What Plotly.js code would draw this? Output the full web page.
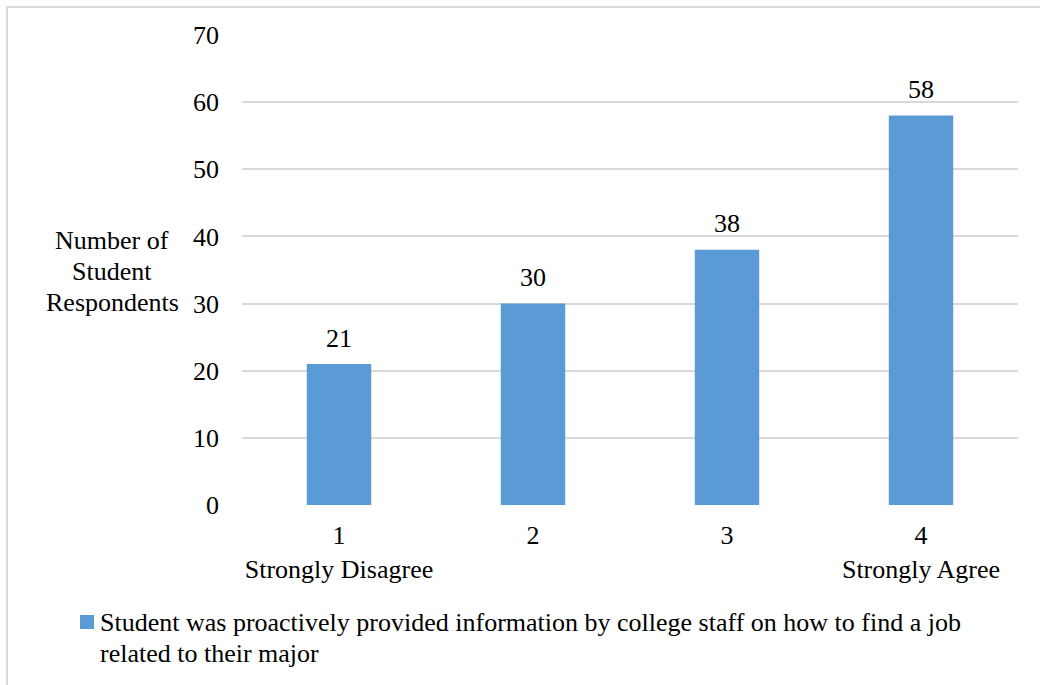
<!DOCTYPE html>
<html>
<head>
<meta charset="utf-8">
<script src="https://cdn.plot.ly/plotly-3.0.1.min.js"></script>
<style>
  html, body { margin: 0; padding: 0; background: #fff; }
  #chart { width: 1040px; height: 685px; }
</style>
</head>
<body>
<div id="chart"></div>
<script>
// Survey responses on a 1–4 agreement scale
const scalePoints = ['1', '2', '3', '4'];
const scaleAnchors = ['Strongly Disagree', '', '', 'Strongly Agree'];
const respondents = [21, 30, 38, 58];
const seriesName = 'Student was proactively provided information by college staff on how to find a job<br>related to their major';
const yTitleLines = ['Number of', 'Student', 'Respondents'];
const yTickValues = [0, 10, 20, 30, 40, 50, 60, 70];

const FONT = 'Liberation Serif, Tinos, Times New Roman, serif';
const FS = 26;
const BAR_COLOR = '#5b9bd5';
const W = 1040, H = 685;
const M = { l: 242, r: 22, t: 35, b: 180, autoexpand: false };
const plotW = W - M.l - M.r, plotH = H - M.t - M.b;
// convert page pixels to paper coordinates
const px = x => (x - M.l) / plotW;
const py = y => (H - M.b - y) / plotH;
const txt = { family: FONT, size: FS, color: '#000' };

const tickText = scalePoints.map((p, i) => scaleAnchors[i] ? p + '<br>' + scaleAnchors[i] : p);

const trace = {
  type: 'bar',
  x: scalePoints,
  y: respondents,
  name: seriesName,
  marker: { color: BAR_COLOR },
  showlegend: false,
  hoverinfo: 'y'
};

// value labels above each bar (category index positions)
const valueLabels = respondents.map((v, i) => ({
  x: i, y: v, xref: 'x', yref: 'y',
  text: String(v), showarrow: false,
  yanchor: 'middle', yshift: 26,
  font: txt
}));

// y-axis title, stacked to the left of the tick labels
const yTitle = yTitleLines.map((line, i) => ({
  xref: 'paper', yref: 'paper',
  x: px(112), y: py(241 + i * 30.5),
  xanchor: 'center', yanchor: 'middle',
  text: line, showarrow: false,
  font: txt
}));

// series key below the axis: colour swatch plus the series name
const keyText = seriesName.split('<br>').map((line, i) => ({
  xref: 'paper', yref: 'paper',
  x: px(98), y: py(622 + i * 31),
  xanchor: 'left', yanchor: 'middle',
  text: line, showarrow: false,
  font: txt
}));

const layout = {
  width: W, height: H,
  margin: M,
  paper_bgcolor: '#fff', plot_bgcolor: '#fff',
  font: txt,
  bargap: 0.668,
  showlegend: false,
  xaxis: {
    type: 'category',
    range: [-0.5, scalePoints.length - 0.5],
    tickvals: scalePoints,
    ticktext: tickText,
    showgrid: false, zeroline: false,
    showline: false, ticks: '',
    tickfont: txt,
    automargin: false,
    ticklabelstandoff: 12
  },
  yaxis: {
    range: [0, 70],
    tickvals: yTickValues,
    showgrid: true, gridcolor: '#d9d9d9', gridwidth: 2,
    zeroline: false, showline: false, ticks: '',
    tickfont: txt,
    automargin: false,
    ticklabelstandoff: 22
  },
  annotations: valueLabels.concat(yTitle, keyText),
  shapes: [
    {
      type: 'path', xref: 'paper', yref: 'paper',
      path: `M ${px(1045)} ${py(7)} L ${px(7)} ${py(7)} L ${px(7)} ${py(690)}`,
      line: { color: '#d9d9d9', width: 2 }
    },
    {
      type: 'rect', xref: 'paper', yref: 'paper',
      x0: px(80), x1: px(94), y0: py(615), y1: py(629),
      fillcolor: BAR_COLOR, line: { width: 0 }
    }
  ]
};

Plotly.newPlot('chart', [trace], layout, { displayModeBar: false, staticPlot: true });
</script>
</body>
</html>
